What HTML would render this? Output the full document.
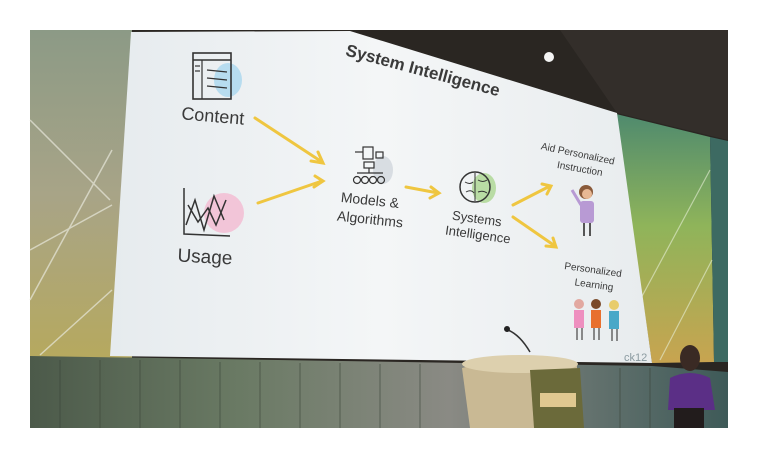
<!DOCTYPE html>
<html><head><meta charset="utf-8"><style>
html,body{margin:0;padding:0;background:#fff;}
svg{display:block;}
text{font-family:"Liberation Sans",sans-serif;fill:#3a3a3a;}
</style></head><body>
<svg width="759" height="458" viewBox="0 0 759 458" xmlns="http://www.w3.org/2000/svg">
<defs>
<linearGradient id="lg" x1="0" y1="0" x2="0" y2="1">
<stop offset="0" stop-color="#8c9a86"/><stop offset="0.5" stop-color="#a8a487"/><stop offset="1" stop-color="#b6a95e"/>
</linearGradient>
<linearGradient id="rg" x1="0" y1="0" x2="0" y2="1">
<stop offset="0" stop-color="#4f8a6e"/><stop offset="0.45" stop-color="#8fb45a"/><stop offset="1" stop-color="#c8a450"/>
</linearGradient>
<linearGradient id="cur" x1="0" y1="0" x2="1" y2="0">
<stop offset="0" stop-color="#4c5a4a"/><stop offset="0.3" stop-color="#6a7a64"/><stop offset="0.6" stop-color="#8a8a84"/><stop offset="1" stop-color="#3e5a58"/>
</linearGradient>
<linearGradient id="sl" x1="0" y1="0" x2="1" y2="0">
<stop offset="0" stop-color="#e6ebee"/><stop offset="0.5" stop-color="#f4f6f7"/><stop offset="1" stop-color="#e8ecee"/>
</linearGradient>
</defs>
<rect x="30" y="30" width="698" height="398" fill="#2a2622"/>
<polygon points="560,30 728,30 728,140 617,113" fill="#332e2a"/>
<circle cx="549" cy="57" r="5" fill="#f4f4f4"/>
<rect x="30" y="30" width="102" height="330" fill="url(#lg)"/>
<g stroke="#e8e8dc" stroke-width="1.5" opacity="0.7" fill="none">
<line x1="30" y1="250" x2="112" y2="205"/><line x1="30" y1="300" x2="112" y2="150"/>
<line x1="40" y1="355" x2="112" y2="290"/><line x1="30" y1="120" x2="110" y2="200"/>
</g>
<polygon points="616,114 710,137 714,362 652,363" fill="url(#rg)"/>
<polygon points="710,137 728,141 728,362 714,362" fill="#3d6a62"/>
<g stroke="#e8f0d8" stroke-width="1.2" opacity="0.6"><line x1="640" y1="300" x2="710" y2="170"/><line x1="660" y1="360" x2="712" y2="260"/></g>
<polygon points="131,32 350,31 617,113 652,363 110,356" fill="url(#sl)"/>
<polygon points="30,356 652,366 728,372 728,428 30,428" fill="url(#cur)"/>
<g stroke="#3a4438" stroke-width="1" opacity="0.6">
<line x1="60" y1="360" x2="60" y2="428"/><line x1="100" y1="360" x2="100" y2="428"/><line x1="140" y1="360" x2="140" y2="428"/><line x1="180" y1="360" x2="180" y2="428"/><line x1="220" y1="362" x2="220" y2="428"/><line x1="260" y1="362" x2="260" y2="428"/><line x1="300" y1="363" x2="300" y2="428"/><line x1="340" y1="363" x2="340" y2="428"/><line x1="380" y1="364" x2="380" y2="428"/><line x1="420" y1="364" x2="420" y2="428"/><line x1="620" y1="368" x2="620" y2="428"/><line x1="650" y1="368" x2="650" y2="428"/>
</g>
<path d="M462,368 Q520,352 577,364 L577,428 L470,428 Z" fill="#c9b994"/>
<ellipse cx="520" cy="364" rx="58" ry="9" fill="#ddd0ae"/>
<polygon points="530,370 580,368 584,428 534,428" fill="#6b6a3a"/>
<rect x="540" y="393" width="36" height="14" fill="#e0c890"/>
<path d="M508,330 Q520,335 530,352" stroke="#333" stroke-width="1.5" fill="none"/>
<circle cx="507" cy="329" r="3" fill="#222"/>
<ellipse cx="690" cy="358" rx="10" ry="13" fill="#3a2a24"/>
<path d="M670,378 Q690,368 710,378 L715,410 L668,410 Z" fill="#5b2f86"/>
<rect x="674" y="408" width="30" height="20" fill="#221c1c"/>
<text x="423" y="76" font-size="17" font-weight="bold" text-anchor="middle" transform="rotate(15 423 70)">System Intelligence</text>
<ellipse cx="228" cy="80" rx="14" ry="17" fill="#b7dcef"/>
<rect x="193" y="53" width="38" height="46" fill="none" stroke="#333" stroke-width="1.6"/>
<line x1="193" y1="60" x2="231" y2="60" stroke="#333" stroke-width="1.4"/>
<line x1="202" y1="60" x2="202" y2="99" stroke="#333" stroke-width="1.2"/>
<g stroke="#333" stroke-width="1.2"><line x1="207" y1="70" x2="227" y2="72"/><line x1="207" y1="78" x2="227" y2="80"/><line x1="207" y1="86" x2="227" y2="88"/><line x1="195" y1="66" x2="200" y2="66"/><line x1="195" y1="71" x2="200" y2="71"/></g>
<text x="213" y="122" font-size="18" text-anchor="middle" transform="rotate(5 213 115)">Content</text>
<circle cx="224" cy="213" r="20" fill="#f2c5d8"/>
<g stroke="#333" stroke-width="1.5" fill="none">
<polyline points="184,188 184,234 230,236"/>
<polyline points="186,225 195,200 204,230 214,196 224,220"/>
<polyline points="188,205 198,222 208,208 216,225 226,200"/>
</g>
<text x="205" y="263" font-size="19" text-anchor="middle" transform="rotate(3 205 256)">Usage</text>
<g stroke="#efc640" stroke-width="3" fill="none" stroke-linecap="round">
<line x1="255" y1="118" x2="322" y2="162"/><polyline points="311,161 323,163 318,152"/>
<line x1="258" y1="203" x2="322" y2="181"/><polyline points="315,176 323,181 314,187"/>
<line x1="406" y1="187" x2="438" y2="193"/><polyline points="431,187 439,193 430,198"/>
<line x1="513" y1="205" x2="550" y2="186"/><polyline points="542,184 551,186 547,194"/>
<line x1="513" y1="217" x2="555" y2="246"/><polyline points="546,246 556,247 553,238"/>
</g>
<ellipse cx="383" cy="170" rx="10" ry="14" fill="#d8dde2"/>
<g stroke="#333" stroke-width="1.2" fill="none">
<rect x="363" y="147" width="10" height="12"/><rect x="376" y="152" width="7" height="6"/><line x1="355" y1="152" x2="363" y2="152"/>
<rect x="364" y="162" width="10" height="6"/><line x1="369" y1="168" x2="369" y2="173"/><line x1="357" y1="173" x2="383" y2="173"/>
<circle cx="357" cy="180" r="3.5"/><circle cx="365" cy="180" r="3.5"/><circle cx="373" cy="180" r="3.5"/><circle cx="381" cy="180" r="3.5"/>
</g>
<text x="370" y="205" font-size="14" text-anchor="middle" transform="rotate(6 370 200)">Models &amp;</text>
<text x="370" y="224" font-size="14" text-anchor="middle" transform="rotate(6 370 220)">Algorithms</text>
<ellipse cx="484" cy="188" rx="12" ry="15" fill="#b9dca4"/>
<ellipse cx="475" cy="187" rx="15" ry="15" fill="none" stroke="#333" stroke-width="1.5"/>
<g stroke="#333" stroke-width="1" fill="none"><path d="M475,173 L475,201"/><path d="M465,182 q5,3 8,0 M466,192 q5,-3 8,1 M478,180 q5,3 9,0 M478,192 q5,-2 9,1"/></g>
<text x="477" y="223" font-size="13" text-anchor="middle" transform="rotate(8 477 218)">Systems</text>
<text x="478" y="239" font-size="13" text-anchor="middle" transform="rotate(8 478 234)">Intelligence</text>
<text x="578" y="157" font-size="10" text-anchor="middle" transform="rotate(12 578 153)">Aid Personalized</text>
<text x="580" y="172" font-size="10" text-anchor="middle" transform="rotate(10 580 168)">Instruction</text>
<circle cx="586" cy="192" r="7" fill="#8a5a3a"/>
<circle cx="587" cy="194" r="5" fill="#e8b894"/>
<rect x="580" y="201" width="14" height="22" rx="3" fill="#b89ad4"/>
<line x1="581" y1="205" x2="572" y2="190" stroke="#b89ad4" stroke-width="3"/>
<line x1="584" y1="223" x2="584" y2="236" stroke="#555" stroke-width="2"/><line x1="590" y1="223" x2="590" y2="236" stroke="#555" stroke-width="2"/>
<text x="593" y="273" font-size="10" text-anchor="middle" transform="rotate(8 593 270)">Personalized</text>
<text x="594" y="288" font-size="10" text-anchor="middle" transform="rotate(8 594 285)">Learning</text>
<circle cx="579" cy="304" r="5" fill="#e2a8a0"/><rect x="574" y="310" width="10" height="18" fill="#ee8fbf"/>
<circle cx="596" cy="304" r="5" fill="#7a4a2a"/><rect x="591" y="310" width="10" height="18" fill="#e8702e"/>
<circle cx="614" cy="305" r="5" fill="#e8cc6a"/><rect x="609" y="311" width="10" height="18" fill="#4aa8c8"/>
<g stroke="#666" stroke-width="1.5"><line x1="577" y1="328" x2="577" y2="340"/><line x1="582" y1="328" x2="582" y2="340"/><line x1="594" y1="328" x2="594" y2="340"/><line x1="599" y1="328" x2="599" y2="340"/><line x1="612" y1="329" x2="612" y2="341"/><line x1="617" y1="329" x2="617" y2="341"/></g>
<text x="624" y="361" font-size="11" style="fill:#8a9aa0">ck12</text>
</svg>
</body></html>
